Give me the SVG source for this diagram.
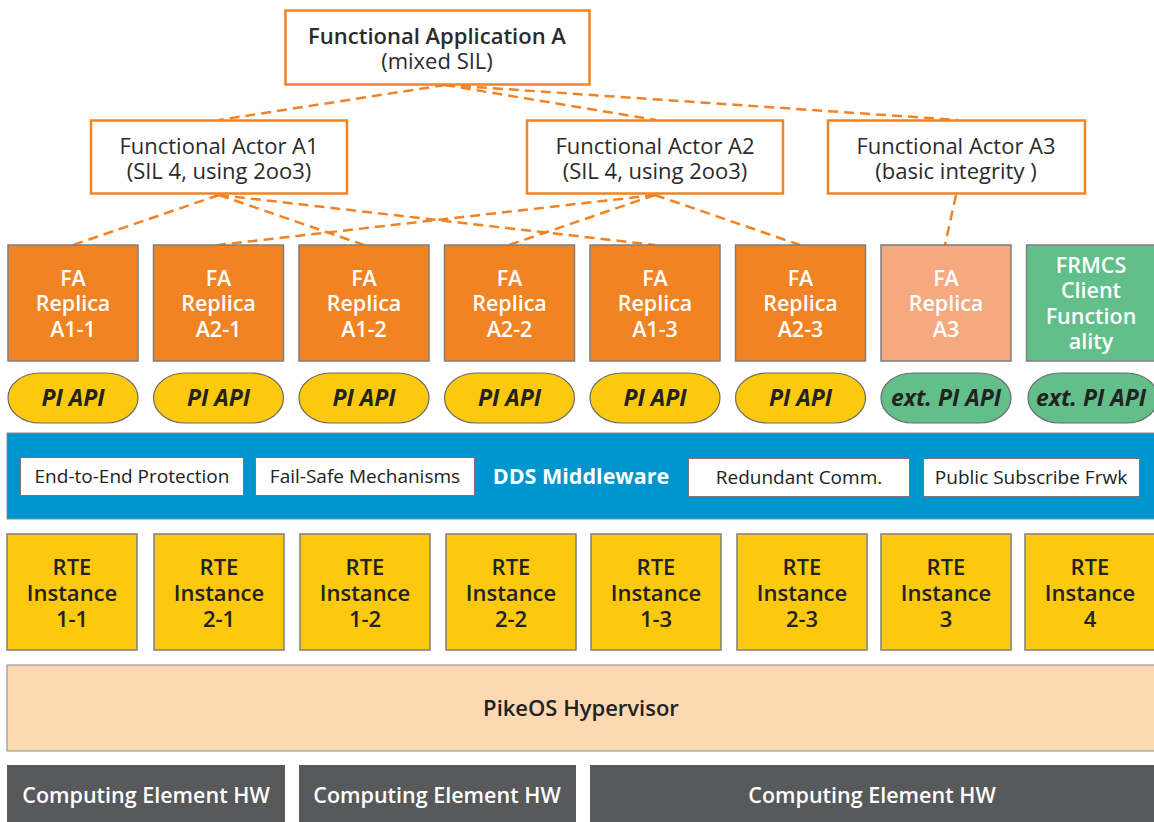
<svg xmlns="http://www.w3.org/2000/svg" width="1154" height="822" viewBox="0 0 1154 822">
<style>
text{font-family:"Open Sans","Liberation Sans",sans-serif;text-anchor:middle}
.fa{fill:none;stroke:#F28322;stroke-width:2.5}
.t1{font-size:22px;fill:#2b2b2b}
.t1b{font-size:22px;fill:#2b2b2b;font-weight:600}
.rep{stroke:#7f7f7f;stroke-width:1.5}
.wt{font-size:21.5px;fill:#fff;font-weight:600}
.api{stroke:#6b6b6b;stroke-width:1.2}
.apit{font-size:23px;font-weight:700;font-style:italic;fill:#222}
.mw{fill:#fff;stroke:#777;stroke-width:1}
.mwt{font-size:19px;fill:#222}
.rte{fill:#FDC90F;stroke:#7f7f7f;stroke-width:1.5}
.rtet{font-size:22px;font-weight:600;fill:#222}
.hw{fill:#58595B}
.hwt{font-size:21.5px;fill:#fff;font-weight:600}
.conn{fill:none;stroke:#F28322;stroke-width:2.5;stroke-dasharray:10 6}
</style>
<rect width="1154" height="822" fill="#fff"/>
<g id="connectors">
<line class="conn" x1="445" y1="85" x2="219" y2="120"/>
<line class="conn" x1="445" y1="85" x2="656" y2="120"/>
<line class="conn" x1="445" y1="85" x2="958" y2="120"/>
<line class="conn" x1="219" y1="195" x2="73" y2="245"/>
<line class="conn" x1="219" y1="195" x2="364" y2="245"/>
<line class="conn" x1="219" y1="195" x2="655" y2="245"/>
<line class="conn" x1="655" y1="195" x2="218" y2="245"/>
<line class="conn" x1="655" y1="195" x2="509" y2="245"/>
<line class="conn" x1="655" y1="195" x2="800" y2="245"/>
<line class="conn" x1="956" y1="195" x2="945" y2="245"/>
</g>
<g id="app-a">
<rect class="fa" x="285.5" y="10.5" width="304" height="74" fill="#fff"/>
<text class="t1b" x="437" y="44">Functional Application A</text>
<text class="t1" x="437" y="69">(mixed SIL)</text>
</g>
<g id="actor-a1">
<rect class="fa" x="91" y="120.5" width="256" height="73" fill="#fff"/>
<text class="t1" x="219" y="154">Functional Actor A1</text>
<text class="t1" x="219" y="179">(SIL 4, using 2oo3)</text>
</g>
<g id="actor-a2">
<rect class="fa" x="527" y="120.5" width="256" height="73" fill="#fff"/>
<text class="t1" x="655" y="154">Functional Actor A2</text>
<text class="t1" x="655" y="179">(SIL 4, using 2oo3)</text>
</g>
<g id="actor-a3">
<rect class="fa" x="828" y="120.5" width="257" height="73" fill="#fff"/>
<text class="t1" x="956" y="154">Functional Actor A3</text>
<text class="t1" x="956" y="179">(basic integrity )</text>
</g>
<g id="replica-a1-1">
<rect class="rep" x="8" y="245" width="130" height="116" fill="#F28322"/>
<text class="wt" x="73" y="286">FA</text><text class="wt" x="73" y="311">Replica</text><text class="wt" x="73" y="337">A1-1</text>
</g>
<g id="replica-a2-1">
<rect class="rep" x="153.5" y="245" width="130" height="116" fill="#F28322"/>
<text class="wt" x="218.5" y="286">FA</text><text class="wt" x="218.5" y="311">Replica</text><text class="wt" x="218.5" y="337">A2-1</text>
</g>
<g id="replica-a1-2">
<rect class="rep" x="299" y="245" width="130" height="116" fill="#F28322"/>
<text class="wt" x="364" y="286">FA</text><text class="wt" x="364" y="311">Replica</text><text class="wt" x="364" y="337">A1-2</text>
</g>
<g id="replica-a2-2">
<rect class="rep" x="444.5" y="245" width="130" height="116" fill="#F28322"/>
<text class="wt" x="509.5" y="286">FA</text><text class="wt" x="509.5" y="311">Replica</text><text class="wt" x="509.5" y="337">A2-2</text>
</g>
<g id="replica-a1-3">
<rect class="rep" x="590" y="245" width="130" height="116" fill="#F28322"/>
<text class="wt" x="655" y="286">FA</text><text class="wt" x="655" y="311">Replica</text><text class="wt" x="655" y="337">A1-3</text>
</g>
<g id="replica-a2-3">
<rect class="rep" x="735.5" y="245" width="130" height="116" fill="#F28322"/>
<text class="wt" x="800.5" y="286">FA</text><text class="wt" x="800.5" y="311">Replica</text><text class="wt" x="800.5" y="337">A2-3</text>
</g>
<g id="replica-a3">
<rect class="rep" x="881" y="245" width="130" height="116" fill="#F6A97F"/>
<text class="wt" x="946" y="286">FA</text><text class="wt" x="946" y="311">Replica</text><text class="wt" x="946" y="337">A3</text>
</g>
<g id="frmcs">
<rect class="rep" x="1026.5" y="245" width="130" height="116" fill="#63BF8A"/>
<text class="wt" x="1091" y="273">FRMCS</text><text class="wt" x="1091" y="298">Client</text><text class="wt" x="1091" y="324">Function</text><text class="wt" x="1091" y="349">ality</text>
</g>
<g id="api-1"><rect class="api" x="8" y="373" width="130" height="50" rx="32" ry="25" fill="#FDC90F"/><text class="apit" x="73" y="406">PI API</text></g>
<g id="api-2"><rect class="api" x="153.5" y="373" width="130" height="50" rx="32" ry="25" fill="#FDC90F"/><text class="apit" x="218.5" y="406">PI API</text></g>
<g id="api-3"><rect class="api" x="299" y="373" width="130" height="50" rx="32" ry="25" fill="#FDC90F"/><text class="apit" x="364" y="406">PI API</text></g>
<g id="api-4"><rect class="api" x="444.5" y="373" width="130" height="50" rx="32" ry="25" fill="#FDC90F"/><text class="apit" x="509.5" y="406">PI API</text></g>
<g id="api-5"><rect class="api" x="590" y="373" width="130" height="50" rx="32" ry="25" fill="#FDC90F"/><text class="apit" x="655" y="406">PI API</text></g>
<g id="api-6"><rect class="api" x="735.5" y="373" width="130" height="50" rx="32" ry="25" fill="#FDC90F"/><text class="apit" x="800.5" y="406">PI API</text></g>
<g id="api-7"><rect class="api" x="881" y="373" width="130" height="50" rx="32" ry="25" fill="#63BF8A"/><text class="apit" x="946" y="406">ext. PI API</text></g>
<g id="api-8"><rect class="api" x="1028" y="373" width="130" height="50" rx="32" ry="25" fill="#63BF8A"/><text class="apit" x="1091" y="406">ext. PI API</text></g>
<g id="dds-middleware">
<rect x="7" y="433" width="1150" height="86" fill="#0095CE" stroke="#8a8a8a" stroke-width="1"/>
<rect class="mw" x="20.5" y="457.5" width="223" height="38"/>
<text class="mwt" x="132" y="483">End-to-End Protection</text>
<rect class="mw" x="255.5" y="457.5" width="219" height="38"/>
<text class="mwt" x="365" y="483">Fail-Safe Mechanisms</text>
<text x="581" y="484" style="font-size:21.5px;font-weight:700;fill:#fff">DDS Middleware</text>
<rect class="mw" x="688.5" y="458.5" width="221" height="38"/>
<text class="mwt" x="799" y="484">Redundant Comm.</text>
<rect class="mw" x="923.5" y="458.5" width="216" height="38"/>
<text class="mwt" x="1031" y="484">Public Subscribe Frwk</text>
</g>
<g id="rte-1-1"><rect class="rte" x="7" y="534" width="130" height="116"/><text class="rtet" x="72" y="575">RTE</text><text class="rtet" x="72" y="601">Instance</text><text class="rtet" x="72" y="627">1-1</text></g>
<g id="rte-2-1"><rect class="rte" x="154" y="534" width="130" height="116"/><text class="rtet" x="219" y="575">RTE</text><text class="rtet" x="219" y="601">Instance</text><text class="rtet" x="219" y="627">2-1</text></g>
<g id="rte-1-2"><rect class="rte" x="300" y="534" width="130" height="116"/><text class="rtet" x="365" y="575">RTE</text><text class="rtet" x="365" y="601">Instance</text><text class="rtet" x="365" y="627">1-2</text></g>
<g id="rte-2-2"><rect class="rte" x="446" y="534" width="130" height="116"/><text class="rtet" x="511" y="575">RTE</text><text class="rtet" x="511" y="601">Instance</text><text class="rtet" x="511" y="627">2-2</text></g>
<g id="rte-1-3"><rect class="rte" x="591" y="534" width="130" height="116"/><text class="rtet" x="656" y="575">RTE</text><text class="rtet" x="656" y="601">Instance</text><text class="rtet" x="656" y="627">1-3</text></g>
<g id="rte-2-3"><rect class="rte" x="737" y="534" width="130" height="116"/><text class="rtet" x="802" y="575">RTE</text><text class="rtet" x="802" y="601">Instance</text><text class="rtet" x="802" y="627">2-3</text></g>
<g id="rte-3"><rect class="rte" x="881" y="534" width="130" height="116"/><text class="rtet" x="946" y="575">RTE</text><text class="rtet" x="946" y="601">Instance</text><text class="rtet" x="946" y="627">3</text></g>
<g id="rte-4"><rect class="rte" x="1025" y="534" width="132" height="116"/><text class="rtet" x="1090" y="575">RTE</text><text class="rtet" x="1090" y="601">Instance</text><text class="rtet" x="1090" y="627">4</text></g>
<g id="pikeos">
<rect x="7" y="665" width="1150" height="86" fill="#FCD9B0" stroke="#8a8a8a" stroke-width="1"/>
<text class="rtet" x="581" y="716">PikeOS Hypervisor</text>
</g>
<g id="hw-1"><rect class="hw" x="7" y="765" width="278" height="60"/><text class="hwt" x="146" y="803">Computing Element HW</text></g>
<g id="hw-2"><rect class="hw" x="299" y="765" width="277" height="60"/><text class="hwt" x="437" y="803">Computing Element HW</text></g>
<g id="hw-3"><rect class="hw" x="590" y="765" width="567" height="60"/><text class="hwt" x="872" y="803">Computing Element HW</text></g>
</svg>
